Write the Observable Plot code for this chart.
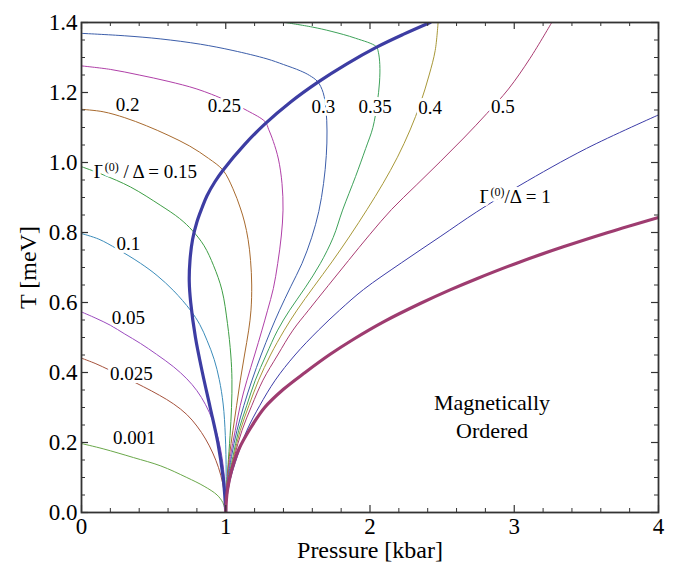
<!DOCTYPE html>
<html><head><meta charset="utf-8">
<script src="https://cdn.jsdelivr.net/npm/d3@7"></script>
<script src="https://cdn.jsdelivr.net/npm/@observablehq/plot@0.6"></script>
<style>body{margin:0;background:#fff} svg{display:block}</style>
</head><body><div id="chart"></div>
<script>
// ---- axis ticks ----
const xTicksMajor = [0, 1, 2, 3, 4];
const xTickLabels = ["0", "1", "2", "3", "4"];
const xTicksMinor = [0.2,0.4,0.6,0.8,1.2,1.4,1.6,1.8,2.2,2.4,2.6,2.8,3.2,3.4,3.6,3.8];
const yTicksMajor = [0, 0.2, 0.4, 0.6, 0.8, 1.0, 1.2, 1.4];
const yTickLabels = ["0.0","0.2","0.4","0.6","0.8","1.0","1.2","1.4"];
const yTicksMinor = [0.05,0.1,0.15,0.25,0.3,0.35,0.45,0.5,0.55,0.65,0.7,0.75,0.85,0.9,0.95,1.05,1.1,1.15,1.25,1.3,1.35];

// ---- curves: [pressure kbar, T meV] ----
const g0001 = [[0,0.197],[0.15,0.182],[0.36,0.157],[0.55,0.133],[0.73,0.1],[0.85,0.075],[0.94,0.05],[0.98,0.028],[1,0]];
const g0025 = [[0,0.441],[0.1,0.425],[0.189,0.408],[0.3,0.386],[0.431,0.359],[0.54,0.335],[0.639,0.31],[0.73,0.28],[0.8,0.247],[0.86,0.21],[0.91,0.17],[0.95,0.128],[0.978,0.085],[0.994,0.04],[1,0]];
const g005 = [[0,0.573],[0.1,0.555],[0.2,0.535],[0.3,0.51],[0.409,0.483],[0.52,0.452],[0.639,0.416],[0.73,0.382],[0.8,0.348],[0.86,0.308],[0.91,0.262],[0.95,0.207],[0.975,0.155],[0.992,0.09],[1,0]];
const g01 = [[0,0.797],[0.12,0.781],[0.247,0.753],[0.409,0.712],[0.524,0.677],[0.64,0.633],[0.755,0.578],[0.82,0.537],[0.87,0.492],[0.92,0.437],[0.955,0.38],[0.982,0.31],[0.997,0.22],[1.003,0.11],[1,0]];
const g015 = [[0,0.988],[0.15,0.965],[0.34,0.93],[0.55,0.877],[0.68,0.84],[0.77,0.805],[0.85,0.762],[0.916,0.705],[0.974,0.635],[1.012,0.54],[1.035,0.45],[1.043,0.38],[1.04,0.3],[1.03,0.22],[1.015,0.13],[1.004,0.06],[1,0]];
const g02 = [[0,1.152],[0.15,1.145],[0.3,1.128],[0.45,1.105],[0.6,1.078],[0.75,1.047],[0.88,1.012],[0.981,0.978],[1.05,0.925],[1.101,0.87],[1.13,0.83],[1.155,0.78],[1.172,0.72],[1.18,0.65],[1.175,0.578],[1.159,0.521],[1.13,0.45],[1.101,0.378],[1.075,0.305],[1.05,0.235],[1.025,0.16],[1.01,0.092],[1.002,0.04],[1,0]];
const g025 = [[0,1.276],[0.2,1.266],[0.4,1.25],[0.6,1.232],[0.8,1.21],[1.0,1.178],[1.15,1.148],[1.274,1.116],[1.297,1.095],[1.33,1.06],[1.365,1.01],[1.39,0.94],[1.397,0.864],[1.385,0.79],[1.36,0.711],[1.33,0.64],[1.29,0.578],[1.251,0.521],[1.2,0.45],[1.147,0.378],[1.1,0.305],[1.066,0.235],[1.032,0.16],[1.012,0.092],[1.003,0.04],[1,0]];
const g03 = [[0,1.369],[0.3,1.362],[0.55,1.353],[0.824,1.338],[1.05,1.32],[1.286,1.296],[1.4,1.28],[1.517,1.262],[1.58,1.249],[1.637,1.231],[1.675,1.2],[1.695,1.15],[1.702,1.09],[1.697,1.02],[1.678,0.94],[1.645,0.86],[1.595,0.785],[1.528,0.711],[1.45,0.645],[1.373,0.578],[1.313,0.521],[1.245,0.45],[1.182,0.378],[1.125,0.305],[1.078,0.235],[1.04,0.16],[1.015,0.092],[1.004,0.04],[1,0]];
const g035 = [[1.413,1.4],[1.6,1.387],[1.73,1.375],[1.9,1.355],[2.043,1.331],[2.058,1.315],[2.068,1.28],[2.066,1.23],[2.05,1.17],[2.02,1.1],[1.97,1.04],[1.9,0.96],[1.81,0.864],[1.745,0.786],[1.655,0.711],[1.55,0.642],[1.443,0.578],[1.36,0.521],[1.28,0.45],[1.205,0.378],[1.145,0.305],[1.09,0.235],[1.05,0.16],[1.017,0.092],[1.005,0.04],[1,0]];
const g04 = [[1,0],[1.006,0.04],[1.02,0.092],[1.055,0.16],[1.101,0.235],[1.16,0.305],[1.228,0.378],[1.31,0.45],[1.406,0.521],[1.494,0.578],[1.61,0.645],[1.736,0.716],[1.86,0.79],[1.98,0.866],[2.09,0.94],[2.19,1.015],[2.278,1.093],[2.35,1.17],[2.41,1.25],[2.452,1.32],[2.472,1.4]];
const g05 = [[1,0],[1.007,0.04],[1.022,0.092],[1.06,0.16],[1.113,0.235],[1.18,0.305],[1.258,0.378],[1.36,0.45],[1.466,0.521],[1.574,0.578],[1.71,0.648],[1.851,0.72],[2.0,0.795],[2.15,0.866],[2.32,0.935],[2.486,1.002],[2.65,1.07],[2.81,1.14],[2.96,1.21],[3.11,1.298],[3.26,1.4]];
const g1 = [[1,0],[1.008,0.04],[1.03,0.092],[1.08,0.16],[1.147,0.235],[1.235,0.305],[1.343,0.378],[1.48,0.45],[1.643,0.521],[1.789,0.578],[1.955,0.637],[2.22,0.714],[2.486,0.788],[2.74,0.859],[3.04,0.935],[3.5,1.04],[4,1.136]];
const boundaryLow = [[1,0],[0.993,0.05],[0.982,0.1],[0.945,0.2],[0.892,0.3],[0.838,0.4],[0.79,0.5],[0.757,0.6],[0.747,0.66],[0.752,0.72],[0.77,0.78],[0.8,0.83],[0.835,0.87],[0.87,0.905],[0.925,0.945],[0.981,0.978],[1.13,1.051],[1.274,1.111],[1.45,1.173],[1.637,1.229],[1.84,1.282],[2.043,1.329],[2.23,1.366],[2.417,1.4]];
const boundaryOrdered = [[1,0],[1.01,0.06],[1.04,0.12],[1.09,0.18],[1.17,0.24],[1.27,0.3],[1.4,0.352],[1.55,0.4],[1.724,0.452],[1.886,0.495],[2.1,0.546],[2.348,0.597],[2.555,0.636],[2.74,0.668],[3.04,0.716],[3.34,0.759],[3.65,0.8],[4,0.843]];

// ---- contour labels ----
const contourLabelText = ["0.001","0.025","0.05","0.1","Γ⁽⁰⁾ / Δ = 0.15","0.2","0.25","0.3","0.35","0.4","0.5","Γ⁽⁰⁾/Δ = 1"];
const contourLabelP = [0.367,0.346,0.325,0.325,0.443,0.319,0.99,1.676,2.036,2.417,2.922,3.006];
const contourLabelT = [0.212,0.395,0.555,0.767,0.973,1.164,1.161,1.158,1.158,1.156,1.158,0.901];
const regionLabel = ["Magnetically\nOrdered"];
const regionLabelP = [2.846];
const regionLabelT = [0.278];

const serif = "'Liberation Serif', 'Times New Roman', serif";
const W = 679, H = 569, mL = 81, mR = 21, mT = 22, mB = 57;
const ph = H - mT - mB, pw = W - mL - mR;

const thin = [
  [g0001, "#6aa84a"], [g0025, "#a5523c"], [g005, "#9b4bbf"], [g01, "#3b8cba"],
  [g015, "#3e9e45"], [g02, "#a86a2e"], [g025, "#b040a8"], [g03, "#3c5eaa"],
  [g035, "#3ea25a"], [g04, "#a89838"], [g05, "#aa3c72"], [g1, "#3c3ca8"]
];

const curveMarks = thin.map(([pts, c]) => Plot.line(pts, {x: d => d[0], y: d => d[1], stroke: c, strokeWidth: 1, curve: "catmull-rom", clip: true}));

const frameColor = "#333";
const marks = [
  ...curveMarks,
  Plot.line(boundaryLow, {x: d => d[0], y: d => d[1], stroke: "#3d3da3", strokeWidth: 3.2, curve: "catmull-rom", clip: true}),
  Plot.line(boundaryOrdered, {x: d => d[0], y: d => d[1], stroke: "#9e3c70", strokeWidth: 3.2, curve: "catmull-rom", clip: true}),
  Plot.text(contourLabelText, {x: (d, i) => contourLabelP[i], y: (d, i) => contourLabelT[i], text: d => d, fontSize: 19, fontFamily: serif, fill: "black", stroke: "white", strokeWidth: 6}),
  Plot.text(regionLabel, {x: (d, i) => regionLabelP[i], y: (d, i) => regionLabelT[i], text: d => d, fontSize: 22, fontFamily: serif, fill: "black", lineHeight: 1.27}),
  Plot.tickX(xTicksMajor, {x: d => d, insetTop: ph - 7, stroke: frameColor, strokeWidth: 1.2}),
  Plot.tickX(xTicksMajor, {x: d => d, insetBottom: ph - 7, stroke: frameColor, strokeWidth: 1.2}),
  Plot.tickX(xTicksMinor, {x: d => d, insetTop: ph - 4, stroke: frameColor, strokeWidth: 1}),
  Plot.tickX(xTicksMinor, {x: d => d, insetBottom: ph - 4, stroke: frameColor, strokeWidth: 1}),
  Plot.tickY(yTicksMajor, {y: d => d, insetRight: pw - 7, stroke: frameColor, strokeWidth: 1.2}),
  Plot.tickY(yTicksMajor, {y: d => d, insetLeft: pw - 7, stroke: frameColor, strokeWidth: 1.2}),
  Plot.tickY(yTicksMinor, {y: d => d, insetRight: pw - 4, stroke: frameColor, strokeWidth: 1}),
  Plot.tickY(yTicksMinor, {y: d => d, insetLeft: pw - 4, stroke: frameColor, strokeWidth: 1}),
  Plot.frame({stroke: frameColor, strokeWidth: 1.8}),
  Plot.text(xTicksMajor, {x: d => d, text: (d, i) => xTickLabels[i], frameAnchor: "bottom", lineAnchor: "top", dy: 5, fontSize: 23, fontFamily: serif, fill: "black"}),
  Plot.text(yTicksMajor, {y: d => d, text: (d, i) => yTickLabels[i], frameAnchor: "left", textAnchor: "end", dx: -4, fontSize: 23, fontFamily: serif, fill: "black"}),
  Plot.text(["Pressure [kbar]"], {frameAnchor: "bottom", text: d => d, lineAnchor: "middle", dy: 38, fontSize: 24, fontFamily: serif, fill: "black"}),
  Plot.text(["T [meV]"], {frameAnchor: "left", text: d => d, rotate: -90, lineAnchor: "middle", textAnchor: "middle", dx: -53, fontSize: 24, fontFamily: serif, fill: "black"})
];

const chart = Plot.plot({
  width: W, height: H,
  marginLeft: mL, marginRight: mR, marginTop: mT, marginBottom: mB,
  x: {domain: [0, 4], axis: null},
  y: {domain: [0, 1.4], axis: null},
  style: {fontFamily: serif, background: "white"},
  marks
});

// typeset the superscript (0) of Γ with real tspans in the serif font
d3.select(chart).selectAll("text").each(function() {
  const t = this.textContent;
  if (t.startsWith("Γ⁽⁰⁾")) {
    const rest = t.slice("Γ⁽⁰⁾".length);
    const el = d3.select(this);
    el.text(null);
    el.append("tspan").text("Γ");
    el.append("tspan").attr("dy", -7).attr("font-size", 12).text("(0)");
    el.append("tspan").attr("dy", 7).text(rest);
  }
});
document.getElementById("chart").appendChild(chart);
</script>
</body></html>
